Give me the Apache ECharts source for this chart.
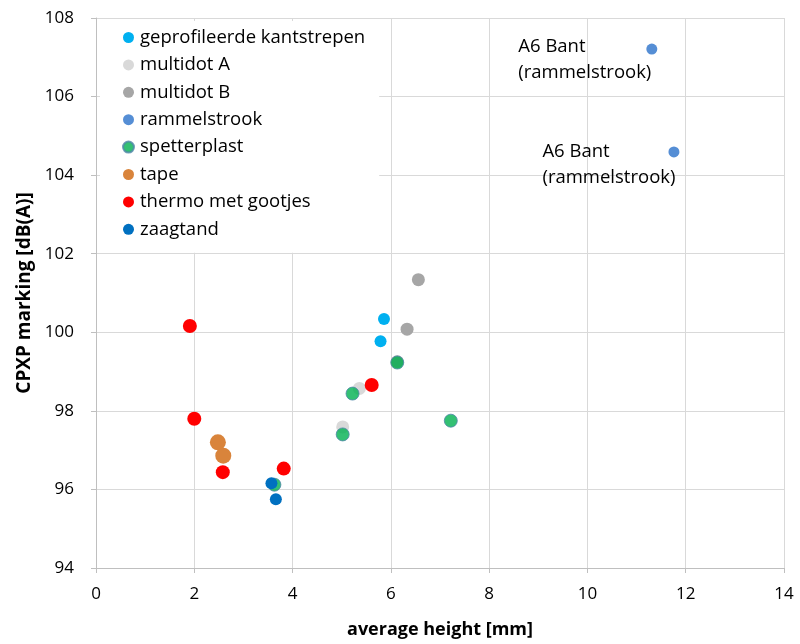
<!DOCTYPE html>
<html><head><meta charset="utf-8">
<script src="https://cdn.jsdelivr.net/npm/echarts@6/dist/echarts.min.js"></script>
<style>html,body{margin:0;padding:0;background:#fff}#c{width:800px;height:644px}</style>
</head><body><div id="c"></div>
<script>
var seriesNames = ['geprofileerde kantstrepen','multidot A','multidot B','rammelstrook','spetterplast','tape','thermo met gootjes','zaagtand'];
var kantstrepen = [[5.86,100.34],[5.79,99.77]];
var multidotA = [[5.36,98.57],[5.02,97.59]];
var multidotB = [[6.56,101.34],[6.33,100.08],[6.13,99.25]];
var rammelstrook = [[11.31,107.21],[11.76,104.59]];
var spetterplast = [[3.63,96.12],[5.02,97.40],[5.22,98.44],[6.13,99.23],[7.22,97.75]];
var tape = [[2.48,97.20],[2.59,96.86]];
var thermo = [[1.91,100.16],[2.00,97.80],[2.58,96.44],[3.82,96.53],[5.61,98.66]];
var zaagtand = [[3.57,96.16],[3.66,95.75]];
var pointLabels = ['A6 Bant\n(rammelstrook)','A6 Bant\n(rammelstrook)'];
var xTicks = [0,14,2];
var yTicks = [94,108,2];

var colors = ['#00b0f0','#d9d9d9','#a6a6a6','#558ed5','#00b050','#d9843b','#ff0000','#0070c0'];
var font = '"Open Sans", Lato, sans-serif';
var chart = echarts.init(document.getElementById('c'));
function s(name, data, size, color, extra){
  var o = {name:name, type:'scatter', data:data, symbolSize:size, itemStyle:{color:color, opacity:1}, emphasis:{disabled:true}};
  if (extra) for (var k in extra) o[k]=extra[k];
  return o;
}
var ramData = rammelstrook.map(function(p,i){
  return {value:p, label:{show:true, formatter:pointLabels[i], position: i===0?[-128,-10]:[-126,-8], align:'left', verticalAlign:'top', fontFamily:font, fontSize:18.5, color:'#000', lineHeight:26}};
});
chart.setOption({
  animation:false,
  color:colors,
  grid:{left:96, right:16, top:18, bottom:74},
  legend:{
    orient:'vertical', left:100, top:21, backgroundColor:'#fff',
    padding:[7,14,14,22], itemWidth:11, itemHeight:11, itemGap:8.4, icon:'circle',
    textStyle:{fontFamily:font, fontSize:18.5, color:'#000', lineHeight:18, padding:[0,0,0,1]},
    data:seriesNames
  },
  xAxis:{type:'value', min:xTicks[0], max:xTicks[1], interval:xTicks[2],
    name:'average height [mm]', nameLocation:'middle', nameGap:53,
    nameTextStyle:{fontFamily:font, fontSize:18, fontWeight:'bold', color:'#000'},
    axisLine:{show:true, lineStyle:{color:'#bfbfbf'}},
    axisTick:{show:true, length:5, lineStyle:{color:'#bfbfbf'}},
    axisLabel:{fontFamily:font, fontSize:17, color:'#000', margin:18},
    splitLine:{show:true, lineStyle:{color:'#d9d9d9'}}},
  yAxis:{type:'value', min:yTicks[0], max:yTicks[1], interval:yTicks[2],
    name:'CPXP marking [dB(A)]', nameLocation:'middle', nameGap:59,
    nameTextStyle:{fontFamily:font, fontSize:19, fontWeight:'bold', color:'#000'},
    axisLine:{show:true, lineStyle:{color:'#bfbfbf'}},
    axisTick:{show:true, length:5, lineStyle:{color:'#bfbfbf'}},
    axisLabel:{fontFamily:font, fontSize:17, color:'#000', margin:22},
    splitLine:{show:true, lineStyle:{color:'#d9d9d9'}}},
  series:[
    s(seriesNames[0], kantstrepen, 12, colors[0]),
    s(seriesNames[1], multidotA, 13, colors[1]),
    s(seriesNames[2], multidotB, 13, colors[2]),
    s(seriesNames[3], ramData, 11, colors[3]),
    s(seriesNames[4], spetterplast, 13, colors[4], {itemStyle:{color:colors[4], borderColor:'#4f86a8', borderWidth:1}}),
    s(seriesNames[5], tape, 16, colors[5]),
    s(seriesNames[6], thermo, 14, colors[6]),
    s(seriesNames[7], zaagtand, 12, colors[7])
  ]
});
</script></body></html>
